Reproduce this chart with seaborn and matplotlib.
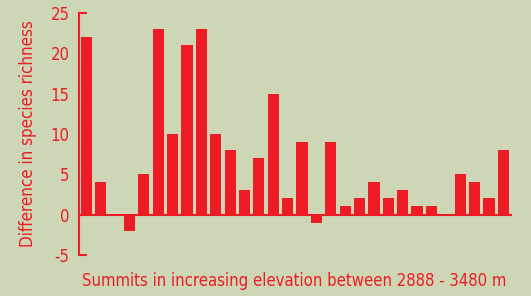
import numpy as np
import pandas as pd
import matplotlib
matplotlib.use("Agg")
import matplotlib.pyplot as plt
import seaborn as sns

# Dados
summits = list(range(1, 31))
richness_diff = [22, 4, 0, -2, 5, 23, 10, 21, 23, 10, 8, 3, 7, 15, 2,
                 9, -1, 9, 1, 2, 4, 2, 3, 1, 1, 0, 5, 4, 2, 8]
y_ticks = [-5, 0, 5, 10, 15, 20, 25]

red = "#ed1c24"
bg = "#cdd6b5"

sns.set_style("white")
plt.rcParams["font.family"] = ["DejaVu Sans"]
plt.rcParams["font.stretch"] = "condensed"
plt.rcParams["axes.unicode_minus"] = False

df = pd.DataFrame({"summit": summits, "diff": richness_diff})

fig = plt.figure(figsize=(5.31, 2.96), dpi=100, facecolor=bg)
ax = fig.add_axes([0.149, 0.139, 0.813, 0.817])
ax.set_facecolor(bg)

sns.barplot(data=df, x="summit", y="diff", color=red, saturation=1,
            width=0.78, linewidth=0, ax=ax)

ax.set_xlim(-0.45, 29.52)
ax.set_ylim(-5, 25)

# eixos
for s in ["top", "right"]:
    ax.spines[s].set_visible(False)
ax.spines["bottom"].set_position(("data", 0))
ax.spines["bottom"].set_color(red)
ax.spines["bottom"].set_linewidth(1.5)
ax.spines["left"].set_color(red)
ax.spines["left"].set_linewidth(1.5)
ax.spines["left"].set_bounds(-5, 25)

ax.set_xticks(np.arange(-0.5, 30, 1))
ax.set_xticklabels([])
ax.tick_params(axis="x", direction="in", length=3, width=1, color=red)

ax.set_yticks(y_ticks)
ax.tick_params(axis="y", which="major", direction="in", length=6, width=1.5,
               color=red, pad=7, labelsize=12, labelcolor=red, left=True)
# só as pontas do eixo y têm marca
for t, v in zip(ax.yaxis.get_major_ticks(), y_ticks):
    if v not in (-5, 25):
        t.tick1line.set_visible(False)

ax.set_xlabel("Summits in increasing elevation between 2888 - 3480 m",
              color=red, fontsize=12)
ax.xaxis.set_label_coords(0.498, -0.072)
ax.set_ylabel("Difference in species richness", color=red, fontsize=12.2)
ax.yaxis.set_label_coords(-0.097, 0.5)

fig.savefig("out.png", dpi=100, facecolor=bg)
